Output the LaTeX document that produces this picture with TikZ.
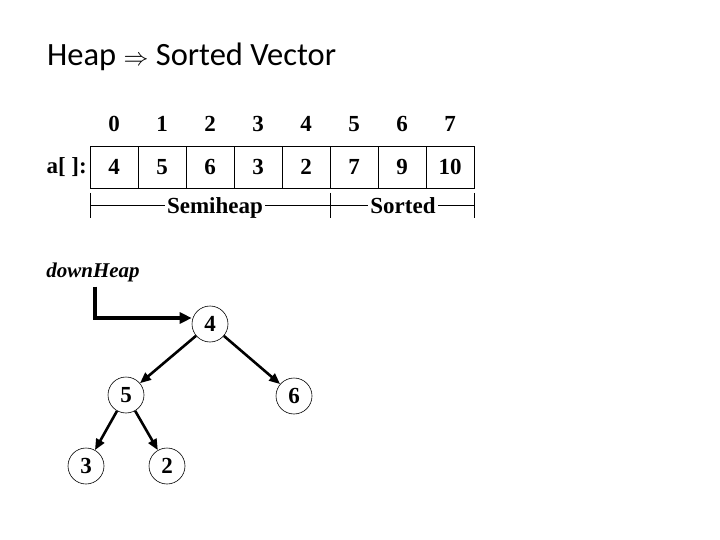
\documentclass[tikz,border=0pt]{standalone}
\usepackage{fontspec}
\setmainfont{Liberation Serif}
\newfontfamily\titlefont{Carlito}
\usetikzlibrary{arrows.meta, positioning}

\begin{document}
\begin{tikzpicture}[
  x=1pt, y=-1pt,
  txt/.style={font=\fontsize{23}{26}\selectfont\bfseries, inner sep=0pt},
  cell/.style={txt, draw, line width=0.8pt, minimum width=48pt,
               minimum height=42pt},
  heapnode/.style={txt, circle, draw, line width=0.6pt, minimum size=36pt},
  arr/.style={-{Triangle[length=11pt, width=9pt]}, line width=2.6pt},
  bigarr/.style={-{Triangle[length=12pt, width=11pt]}, line width=3.6pt},
  tick/.style={line width=0.8pt},
]
  \useasboundingbox (0,0) rectangle (720,540);

  % title
  \node[font=\titlefont\fontsize{32.5}{38}\selectfont, anchor=west, inner sep=0pt]
    (title) at (47,57) {Heap $\Rightarrow$ Sorted Vector};

  % array with its indices
  \foreach \v [count=\i from 0] in {4,5,6,3,2,7,9,10} {
    \node[cell] (c\i) at (114+48*\i,167) {\v};
    \node[txt, above=14pt of c\i] (idx\i) {\i};
  }
  \node[txt, anchor=east] (aname) at (87,167) {a[ ]:};

  % semiheap / sorted brackets
  \coordinate (bl) at (90,205);
  \coordinate (bm) at (330,205);
  \coordinate (br) at (474,205);
  \draw[tick] (bl) -- (br);
  \foreach \p in {bl,bm,br}
    \draw[tick] ([yshift=12pt]\p) -- ([yshift=-13pt]\p);
  \node[txt, fill=white, inner xsep=2pt, anchor=base] (semi) at (215,214) {Semiheap};
  \node[txt, fill=white, inner xsep=2pt, anchor=base] (sorted) at (403,214) {Sorted};

  % tree
  \node[heapnode] (n4) at (210,324) {4};
  \node[heapnode] (n5) at (126,395) {5};
  \node[heapnode] (n6) at (294,396) {6};
  \node[heapnode] (n3) at (86,466) {3};
  \node[heapnode] (n2) at (167,466) {2};

  \draw[arr] (n4) -- (n5);
  \draw[arr] (n4) -- (n6);
  \draw[arr] (n5) -- (n3);
  \draw[arr] (n5) -- (n2);

  \node[txt, font=\fontsize{21}{24}\selectfont\bfseries\itshape]
    (dh) at (93,272) {downHeap};
  \draw[bigarr] ([xshift=2pt]dh.south) ++(0,5) |- ([yshift=6pt]n4.west);
\end{tikzpicture}
\end{document}
